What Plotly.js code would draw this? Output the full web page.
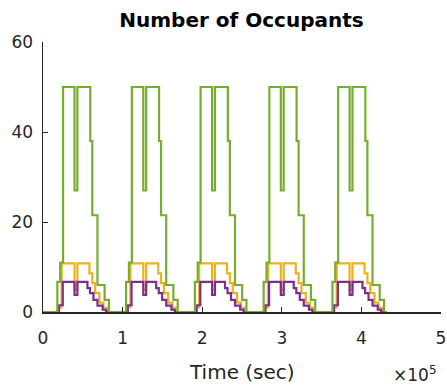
<!DOCTYPE html>
<html>
<head>
<meta charset="utf-8">
<script src="https://cdn.plot.ly/plotly-3.0.1.min.js"></script>
<style>html,body{margin:0;padding:0;background:#fff;}#chart{width:447px;height:385px;}</style>
</head>
<body>
<div id="chart"></div>
<script>
// Day start offsets (days) and seconds per day / hour
const days = [0, 1, 2, 3, 4];
const secPerDay = 86400;
const secPerHour = 3600;

// Daily profile (hour of day -> occupants, step changes)
const greenHours  = [0, 5, 6, 7, 11, 12, 16.5, 17.2, 19, 21.5, 23, 24];
const greenValues = [0, 6.7, 11, 50, 27, 50, 38, 21.5, 6, 2.7, 0, 0];

const orangeHours  = [0, 5.5, 6.5, 11, 12, 16.2, 17.2, 18.2, 19.7, 21.1, 22.3, 24];
const orangeValues = [0, 1, 10.8, 4.9, 10.8, 8.6, 6.4, 4.2, 2.1, 0.9, 0, 0];

const purpleHours  = [0, 5.6, 6.9, 11, 12, 15.5, 16.4, 17.6, 19, 20.8, 22, 24];
const purpleValues = [0, 1.5, 6.7, 3.8, 6.7, 5.3, 4.2, 2.7, 1.4, 0.5, 0, 0];

const xTickVals = [0, 100000, 200000, 300000, 400000, 500000];
const xTickText = ['0', '1', '2', '3', '4', '5'];
const yTickVals = [0, 20, 40, 60];

function build(hours, values) {
  const x = [], y = [];
  days.forEach(function (d) {
    hours.forEach(function (h, i) {
      x.push(d * secPerDay + h * secPerHour);
      y.push(values[i]);
    });
  });
  return {x: x, y: y};
}

const g = build(greenHours, greenValues);
const o = build(orangeHours, orangeValues);
const p = build(purpleHours, purpleValues);

const axisColor = '#262626';
const fam = '"DejaVu Sans", "Liberation Sans", Arial, sans-serif';
const traces = [
  {x: o.x, y: o.y, type: 'scatter', mode: 'lines', line: {color: '#EDB120', width: 2.2, shape: 'hv'}, hoverinfo: 'skip'},
  {x: p.x, y: p.y, type: 'scatter', mode: 'lines', line: {color: '#7E2F8E', width: 2.2, shape: 'hv'}, hoverinfo: 'skip'},
  {x: g.x, y: g.y, type: 'scatter', mode: 'lines', line: {color: '#77AC30', width: 2.2, shape: 'hv'}, hoverinfo: 'skip'}
];

const layout = {
  width: 447, height: 385,
  margin: {l: 43, r: 6, t: 42, b: 73},
  paper_bgcolor: '#ffffff', plot_bgcolor: '#ffffff',
  showlegend: false,
  font: {family: fam, color: axisColor, size: 17},
  title: {text: '<b>Number of Occupants</b>', x: 241.5 / 447, xanchor: 'center', y: 1 - 20 / 385, yanchor: 'middle',
          font: {family: fam, size: 20, color: '#000000'}},
  xaxis: {
    range: [0, 500000], tickvals: xTickVals, ticktext: xTickText,
    ticks: 'inside', ticklen: 5, tickwidth: 1, tickcolor: axisColor,
    showline: true, linecolor: axisColor, linewidth: 1.5, mirror: false,
    showgrid: false, zeroline: false, ticklabelstandoff: 10,
    tickfont: {family: fam, size: 17, color: axisColor}
  },
  yaxis: {
    range: [0, 60], tickvals: yTickVals,
    ticks: 'inside', ticklen: 5, tickwidth: 1, tickcolor: axisColor,
    showline: true, linecolor: axisColor, linewidth: 1.5, mirror: false,
    showgrid: false, zeroline: false, ticklabelstandoff: 5,
    tickfont: {family: fam, size: 17, color: axisColor}
  },
  annotations: [
    {text: 'Time (sec)', xref: 'paper', yref: 'paper', x: 0.5, y: -(372 - 312) / 270,
     xanchor: 'center', yanchor: 'middle', showarrow: false,
     font: {family: fam, size: 20, color: axisColor}},
    {text: '×10<sup>5</sup>', xref: 'paper', yref: 'paper', x: (438 - 43) / 398, y: -(374 - 312) / 270,
     xanchor: 'right', yanchor: 'middle', showarrow: false,
     font: {family: fam, size: 17, color: axisColor}}
  ]
};

Plotly.newPlot('chart', traces, layout, {staticPlot: true, displayModeBar: false});
</script>
</body>
</html>
